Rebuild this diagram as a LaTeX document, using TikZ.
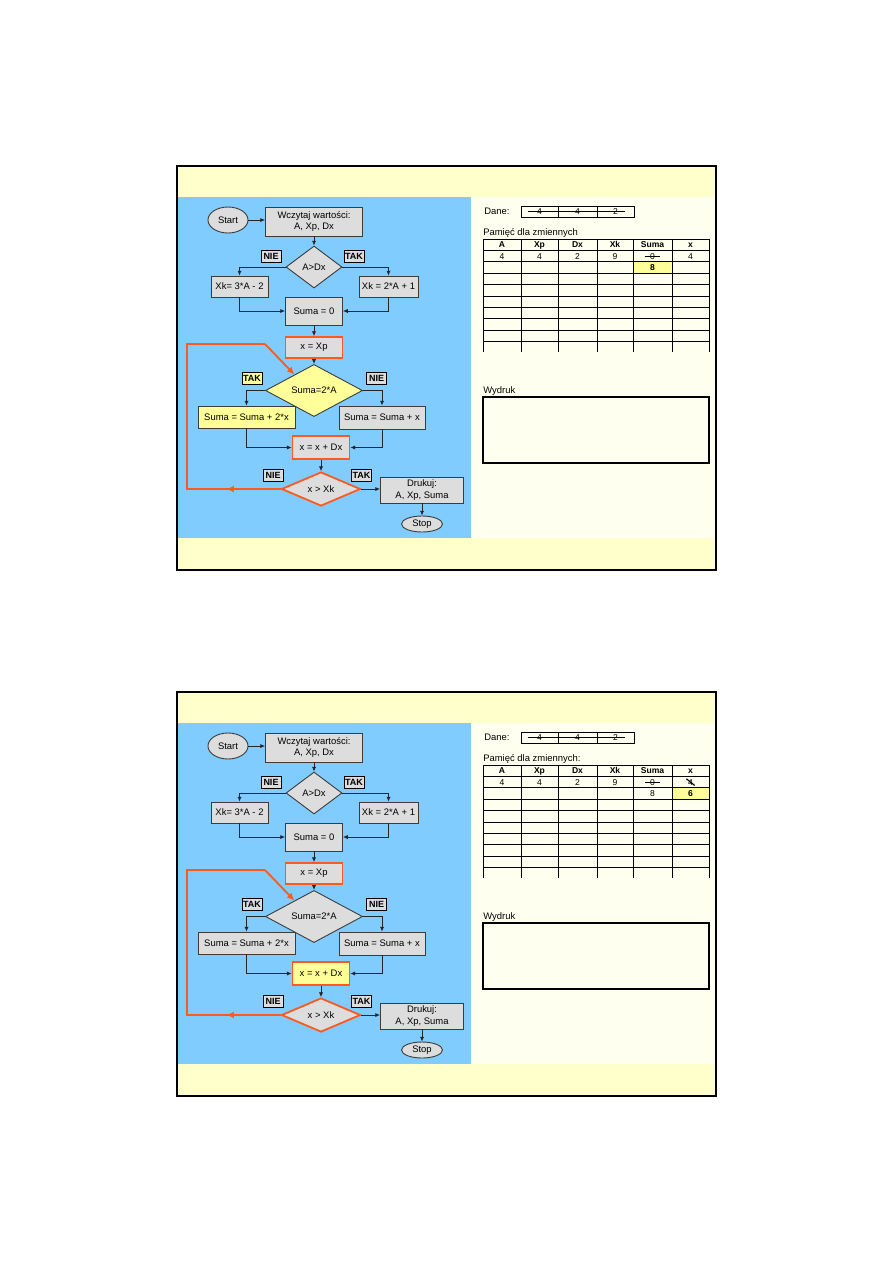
\documentclass[tikz,border=0pt]{standalone}
\usepackage{fontspec}
\setmainfont{Liberation Sans}
\usetikzlibrary{arrows.meta,shapes.geometric,positioning,calc}
\definecolor{bandyellow}{RGB}{255,255,204}
\definecolor{flowblue}{RGB}{128,204,255}
\definecolor{panelcream}{RGB}{255,255,240}
\definecolor{boxgray}{RGB}{221,221,221}
\definecolor{boxedge}{RGB}{60,60,60}
\definecolor{hiyellow}{RGB}{255,255,153}
\definecolor{looporange}{RGB}{255,90,30}
\newdimen\pxu \pxu=0.6667pt
\newcommand{\flowfont}{\fontsize{6.3}{7.4}\selectfont}
\newcommand{\answerfont}{\fontsize{6}{7}\selectfont\bfseries}
\newcommand{\memfont}{\fontsize{5.7}{6.5}\selectfont}
\tikzset{
  wh/.style 2 args={minimum width=#1*\pxu,minimum height=#2*\pxu},
  proc/.style={rectangle,draw=boxedge,line width=0.6pt,fill=boxgray,inner sep=0pt,align=center,font=\flowfont},
  term/.style={ellipse,draw=boxedge,line width=0.6pt,fill=boxgray,inner sep=0pt,font=\flowfont},
  decide/.style={diamond,draw=boxedge,line width=0.6pt,fill=boxgray,inner sep=0pt,font=\flowfont},
  hot/.style={draw=looporange,line width=1.2pt},
  answer/.style={rectangle,draw=black,line width=0.5pt,fill=boxgray,inner sep=0pt,wh={20}{12},font=\answerfont},
  ar/.style={-{Latex[length=3.2pt,width=2.8pt]},line width=0.5pt,black!85},
  back/.style={looporange,line width=1.2pt},
  backar/.style={back,-{Latex[length=5pt,width=4.5pt]}},
  memcell/.style={font=\memfont,inner sep=0pt,text height=4.1pt,text depth=0pt},
  memhead/.style={memcell,font=\memfont\bfseries}
}
% #1 vertical offset, #2 fill of the first branch, #3 fill of x = x + Dx,
% #4 left edge of the marked cell, #5 end of the table title
\newcommand{\flowslide}[5]{%
\begin{scope}[shift={(0,#1)}]
  % slide frame
  \fill[bandyellow] (177,166) rectangle (716,570);
  \fill[flowblue] (178,197) rectangle (471,538);
  \fill[panelcream] (471,197) rectangle (715,538);
  \draw[line width=1pt] (177,166) rectangle (716,570);

  % flowchart
  \node[term,wh={40}{26}] (start) at (228,220) {Start};
  \node[proc,wh={97}{29}] (read) at (314,221.5) {Wczytaj wartości:\\A, Xp, Dx};
  \node[decide,wh={56}{42}] (dec1) at (314,267) {A>Dx};
  \node[answer] (nie1) at (271,256) {NIE};
  \node[answer] (tak1) at (354,256) {TAK};
  \node[proc,wh={57}{21}] (xkl) at (239.5,286.5) {Xk= 3*A - 2};
  \node[proc,wh={59}{21}] (xkr) at (388.5,286.5) {Xk = 2*A + 1};
  \node[proc,wh={57}{28}] (suma0) at (314,311) {Suma = 0};
  \node[proc,hot,wh={57}{21}] (xxp) at (314,347.5) {x = Xp};
  \node[decide,fill=#2,wh={97}{37}] (dec2) at (314,390.5) {Suma=2*A};
  \node[answer,fill=#2] (tak2) at (252,378) {TAK};
  \node[answer] (nie2) at (376.5,378.5) {NIE};
  \node[proc,fill=#2,wh={97}{22}] (sum2x) at (246.5,417) {Suma = Suma + 2*x};
  \node[proc,wh={86}{23}] (sumx) at (382,417.5) {Suma = Suma + x};
  \node[proc,hot,fill=#3,wh={57}{23}] (xinc) at (321,447.5) {x = x + Dx};
  \node[decide,hot,wh={79}{34}] (dec3) at (321,489) {x > Xk};
  \node[answer] (nie3) at (273,475) {NIE};
  \node[answer] (tak3) at (361.5,475.5) {TAK};
  \node[proc,wh={83}{26}] (print) at (422,490) {Drukuj:\\A, Xp, Suma};
  \node[term,wh={41}{16}] (stop) at (422,524) {Stop};

  \draw[ar] (start.east) -- (start.east -| read.west);
  \draw[ar] (read.south) -- (dec1.north);
  \draw[ar] (dec1.west) -| (xkl.north);
  \draw[ar] (dec1.east) -| (xkr.north);
  \draw[ar] (xkl.south) |- (suma0.west);
  \draw[ar] (xkr.south) |- (suma0.east);
  \draw[ar] (suma0.south) -- (xxp.north);
  \draw[ar] (xxp.south) -- (dec2.north);
  \draw[ar] (dec2.west) -| (sum2x.north);
  \draw[ar] (dec2.east) -| (sumx.north);
  \draw[ar] (sum2x.south) |- (xinc.west);
  \draw[ar] (sumx.south) |- (xinc.east);
  \draw[ar] (xinc.south) -- (dec3.north);
  \draw[ar] (dec3.east) -- (dec3.east -| print.west);
  \draw[ar] (print.south) -- (stop.north);

  % loop back
  \coordinate (turnbl) at (187,489);
  \coordinate (turntl) at (187,344);
  \coordinate (turntr) at (265,344);
  \draw[back] (dec3.west) -- (turnbl) -- (turntl) -- (turntr);
  \draw[backar] (turntr) -- ($(dec2.west)!0.6!(dec2.north)$);
  \draw[backar] (dec3.west) -- ($(dec3.west)!0.58!(turnbl)$);

  % input data
  \node[anchor=west,inner sep=0pt,font=\flowfont] (dane) at (484,211.5) {Dane:};
  \draw[line width=0.5pt] (521,206) rectangle (634,217) (558,206) -- (558,217) (597,206) -- (597,217);
  \node[memcell] (d1) at (539.5,211.5) {4};
  \node[memcell] (d2) at (577.5,211.5) {4};
  \node[memcell] (d3) at (615.5,211.5) {2};
  \draw[line width=0.7pt] ([xshift=-8pt]d1.center) -- ([xshift=6pt]d3.center);

  % memory table
  \node[anchor=south west,inner sep=0pt,font=\flowfont] (memlbl) at (483,238) {Pamięć dla zmiennych#5};
  \fill[hiyellow] (#4,261.8) rectangle ++(38,11.4);
  \foreach \i in {0,...,9}
    \draw[line width=0.5pt] (483,{239+11.4*\i}) -- (709,{239+11.4*\i});
  \foreach \cx in {483,521,558,597,633,672,709}
    \draw[line width=0.5pt] (\cx,239) -- (\cx,352);
  \foreach \hd/\cx [count=\i] in {A/502,Xp/539.5,Dx/577.5,Xk/615,Suma/652.5,x/690.5}
    \node[memhead] (h\i) at (\cx,244.7) {\hd};
  \foreach \v/\cx [count=\i] in {4/502,4/539.5,2/577.5,9/615,0/652.5,4/690.5}
    \node[memcell] (m\i) at (\cx,256.1) {\v};
  \draw[line width=0.7pt] ([xshift=-3pt]m5.west) -- ([xshift=3pt]m5.east);

  % printout
  \node[anchor=south west,inner sep=0pt,font=\flowfont] (wlbl) at (483,395.5) {Wydruk};
  \draw[line width=1.3pt] (483,397) rectangle (709,463);
\end{scope}}

\begin{document}
\begin{tikzpicture}[x=0.6667pt,y=-0.6667pt]
  \useasboundingbox[fill=white] (0,0) rectangle (893,1263);

  \flowslide{0}{hiyellow}{boxgray}{633}{}
  \node[memhead] (s1sum) at (652.5,267.5) {8};

  \flowslide{526}{boxgray}{hiyellow}{672}{:}
  \begin{scope}[shift={(0,526)}]
    \node[memcell] (s2sum) at (652.5,267.5) {8};
    \node[memhead] (s2x) at (690.5,267.5) {6};
    \draw[line width=0.8pt] ([xshift=-1pt]m6.north west) -- ([xshift=1pt]m6.south east);
  \end{scope}
\end{tikzpicture}
\end{document}
